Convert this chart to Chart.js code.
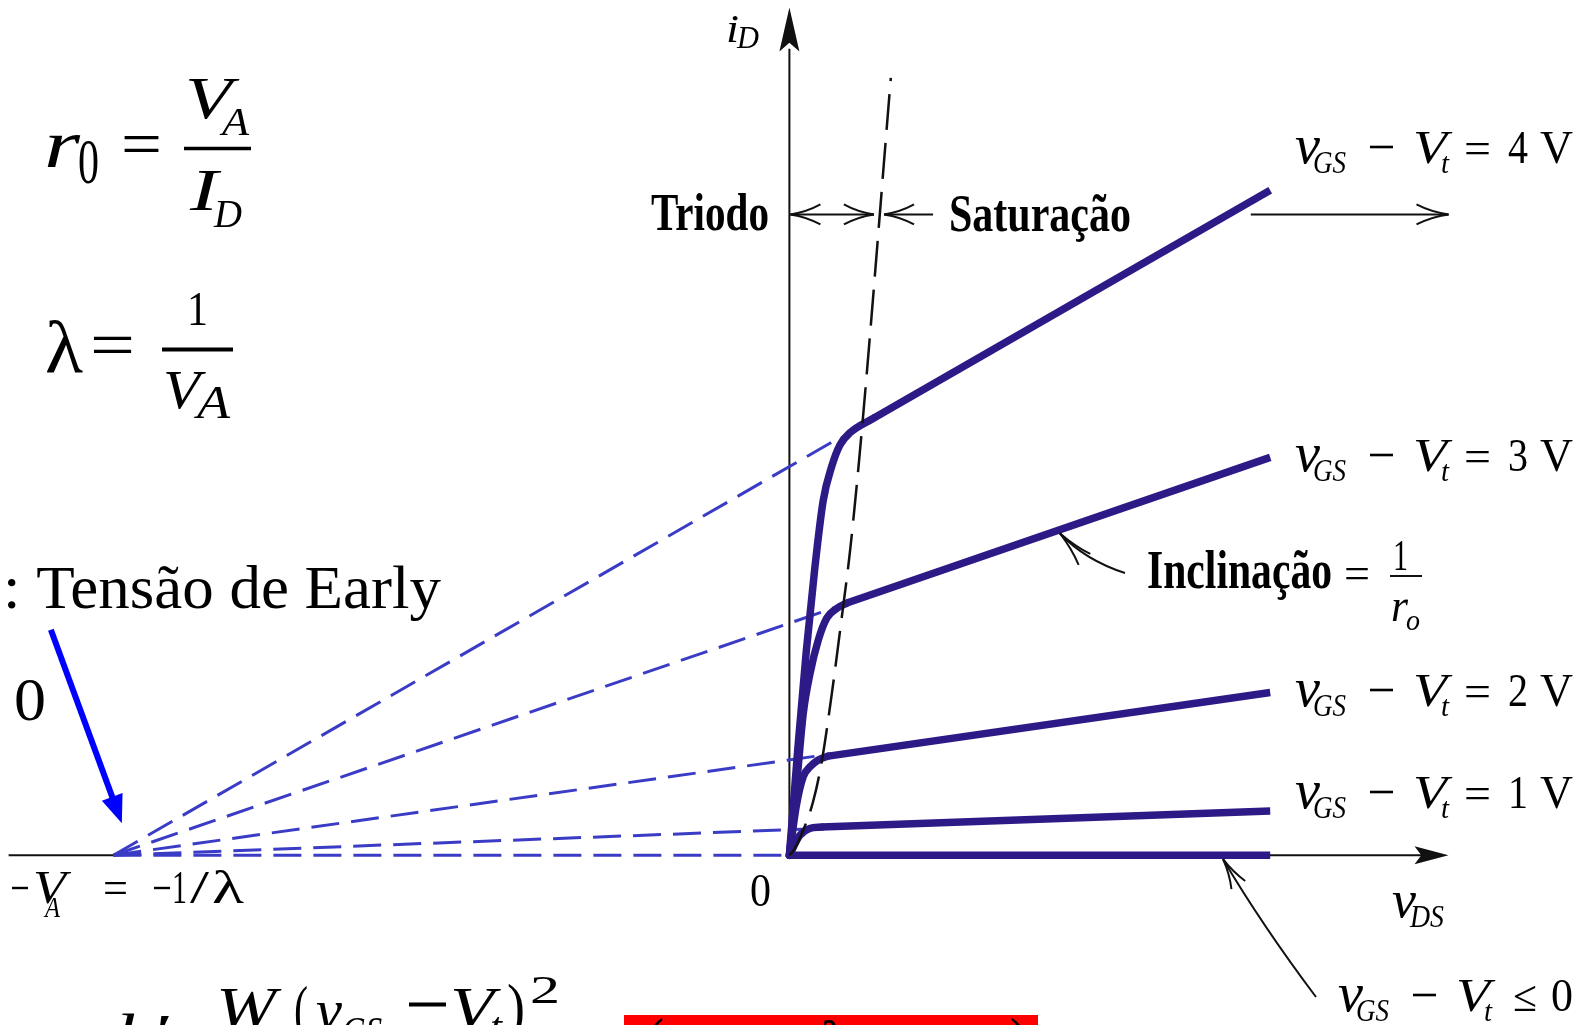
<!DOCTYPE html>
<html>
<head>
<meta charset="utf-8">
<title>Efeito Early - curvas iD x vDS</title>
<script src="https://cdn.jsdelivr.net/npm/chart.js@4.4.1/dist/chart.umd.min.js"></script>
<style>
  html, body { margin: 0; padding: 0; background: #fff; }
  #wrap { position: relative; width: 1587px; height: 1025px; }
</style>
</head>
<body>
<div id="wrap"><canvas id="curvasChart"></canvas></div>
<script>
// v_GS - V_t de cada curva (V)
const overdrive = [4, 3, 2, 1, 0];
// todas as retas de saturacao se cruzam em -V_A (V)
const earlyVoltage = -40;

// trecho de triodo ate o joelho (vDS em V, iD em mA)
const vds4 = [0, 0.5, 1.0, 1.5, 2.0, 2.5, 3.0, 3.6, 5.0];
const id4  = [0, 2.2, 4.2, 5.9, 7.3, 8.0, 8.45, 8.7, 9.0];
const vds3 = [0, 0.45, 0.82, 1.22, 1.71, 2.21, 2.8, 3.4];
const id3  = [0, 1.55, 2.92, 3.74, 4.43, 4.88, 5.08, 5.19];
const vds2 = [0, 0.4, 0.82, 1.22, 1.71, 2.3];
const id2  = [0, 1.0, 1.62, 1.82, 1.96, 2.04];
const vds1 = [0, 0.6, 1.2, 1.9];
const id1  = [0, 0.4, 0.55, 0.58];

// retas de saturacao: do joelho ate vDS final
const satStartV = [5.0, 3.4, 2.3, 1.9, 0];
const satStartI = [9.0, 5.19, 2.04, 0.58, 0];
const satEndV = 28.45;
const satEndI = [13.69, 8.19, 3.35, 0.91, 0];

// extrapolacao ate -V_A: ponto final de cada reta tracejada
const kneeV = [3.0, 2.8, 2.0, 1.2, 0];
const kneeI = [8.6, 5.11, 2.06, 0.54, 0];

// fronteira triodo / saturacao
const vdsEdge = [0, 0.25, 0.8, 1.4, 1.9, 2.5, 3.1, 3.6, 4.3, 6.0];
const idEdge  = [0, 0.1, 0.5, 1.1, 1.9, 3.3, 4.9, 6.3, 8.8, 16.0];

const SERIF = '"Liberation Serif", "Times New Roman", serif';
const rg = s => `${s}px ${SERIF}`;
const it = s => `italic ${s}px ${SERIF}`;
const bd = s => `bold ${s}px ${SERIF}`;

const COR_CURVA = '#2e1a87';
const COR_TRACO = '#3b3cc6';

function pares(xs, ys) {
    return xs.map((x, i) => ({ x: x, y: ys[i] }));
}

// texto com largura forcada (fonte condensada do livro)
function txt(ctx, s, x, y, font, w) {
    ctx.save();
    ctx.font = font;
    ctx.translate(x, y);
    if (w) ctx.scale(w / ctx.measureText(s).width, 1);
    ctx.fillText(s, 0, 0);
    ctx.restore();
}

// sinal de menos desenhado como traco
function menos(ctx, x, y, w, t) {
    ctx.fillRect(x, y - t / 2, w, t);
}

function linha(ctx, x1, y1, x2, y2) {
    ctx.beginPath();
    ctx.moveTo(x1, y1);
    ctx.lineTo(x2, y2);
    ctx.stroke();
}

// ponta aberta, estilo "<"
function pontaAberta(ctx, tx, ty, ang, len, half) {
    const c = Math.cos(ang), s = Math.sin(ang);
    [1, -1].forEach(k => {
        const bx = tx - len * c - k * half * s;
        const by = ty - len * s + k * half * c;
        const cx = tx - len * 0.55 * c - k * half * 0.25 * s;
        const cy = ty - len * 0.55 * s + k * half * 0.25 * c;
        ctx.beginPath();
        ctx.moveTo(tx, ty);
        ctx.quadraticCurveTo(cx, cy, bx, by);
        ctx.stroke();
    });
}

// ponta cheia dos eixos
function pontaCheia(ctx, tx, ty, ang, len, half) {
    const c = Math.cos(ang), s = Math.sin(ang);
    ctx.beginPath();
    ctx.moveTo(tx, ty);
    ctx.lineTo(tx - len * c - half * s, ty - len * s + half * c);
    ctx.lineTo(tx - len * 0.8 * c, ty - len * 0.8 * s);
    ctx.lineTo(tx - len * c + half * s, ty - len * s - half * c);
    ctx.closePath();
    ctx.fill();
}

function rotuloVgs(ctx, dx, y) {
    txt(ctx, 'v', dx + 1295, y, it(54), 25);
    txt(ctx, 'GS', dx + 1313, y + 10, it(31), 33);
    menos(ctx, dx + 1370, y - 16, 23, 2.6);
    txt(ctx, 'V', dx + 1413, y, it(47), 34);
    txt(ctx, 't', dx + 1441, y + 10, it(29), 8);
}

const anotacoes = {
    id: 'anotacoes',
    beforeDatasetsDraw(chart) {
        const ctx = chart.ctx;
        const X = v => chart.scales.x.getPixelForValue(v);
        const Y = v => chart.scales.y.getPixelForValue(v);
        ctx.save();
        ctx.strokeStyle = '#111';
        ctx.fillStyle = '#111';
        ctx.lineWidth = 2;
        // eixo vDS
        linha(ctx, X(-46.2), Y(0), X(earlyVoltage), Y(0));
        linha(ctx, X(0), Y(0), X(37.5), Y(0));
        pontaCheia(ctx, X(39.0), Y(0), 0, 34, 9);
        // eixo iD
        linha(ctx, X(0), Y(0), X(0), Y(16.6));
        pontaCheia(ctx, X(0), Y(17.45), -Math.PI / 2, 44, 10);
        ctx.restore();
    },
    afterDatasetsDraw(chart) {
        const ctx = chart.ctx;
        const X = v => chart.scales.x.getPixelForValue(v);
        const Y = v => chart.scales.y.getPixelForValue(v);
        ctx.save();
        ctx.fillStyle = '#000';
        ctx.strokeStyle = '#111';
        ctx.lineWidth = 2;
        ctx.textBaseline = 'alphabetic';

        // titulos dos eixos
        txt(ctx, 'i', 726, 42, it(40), 13);
        txt(ctx, 'D', 737, 48, it(32), 22);
        txt(ctx, 'v', 1392, 917, it(52), 24);
        txt(ctx, 'DS', 1410, 927, it(31), 34);
        txt(ctx, '0', 750, 906, rg(46), 21);

        // regioes triodo / saturacao
        txt(ctx, 'Triodo', 651, 230, bd(52), 118);
        txt(ctx, 'Satura\u00e7\u00e3o', 949, 231, bd(52), 182);
        const ya = Y(13.19);
        linha(ctx, X(0) + 1, ya, X(5.0), ya);
        pontaAberta(ctx, X(0) + 1, ya, Math.PI, 30, 10);
        pontaAberta(ctx, X(5.0), ya, 0, 30, 10);
        linha(ctx, X(5.6), ya, X(8.5), ya);
        pontaAberta(ctx, X(5.6), ya, Math.PI, 30, 10);
        linha(ctx, X(27.3), ya, X(39.0), ya);
        pontaAberta(ctx, X(39.0), ya, 0, 32, 10);

        // rotulos das curvas
        const bases = [163, 471, 706, 808];
        overdrive.slice(0, 4).forEach((v, i) => {
            rotuloVgs(ctx, 0, bases[i]);
            txt(ctx, '=', 1464, bases[i], rg(44), 27);
            txt(ctx, String(v), 1508, bases[i], rg(46), 20);
            txt(ctx, 'V', 1540, bases[i], rg(46), 33);
        });
        rotuloVgs(ctx, 43, 1011);
        txt(ctx, '\u2264', 1513, 1011, rg(44), 24);
        txt(ctx, '0', 1551, 1011, rg(46), 22);

        // seta para a curva de corte
        const t0x = X(25.66), t0y = Y(0) + 4;
        ctx.beginPath();
        ctx.moveTo(t0x, t0y);
        ctx.quadraticCurveTo(1262, 925, 1316, 997);
        ctx.stroke();
        pontaAberta(ctx, t0x, t0y, Math.atan2(t0y - 925, t0x - 1262), 30, 8);

        // inclinacao 1/ro
        const sx = X(16.0), sy = Y(6.69) + 3;
        ctx.beginPath();
        ctx.moveTo(sx, sy);
        ctx.quadraticCurveTo(1085, 560, 1125, 573);
        ctx.stroke();
        pontaAberta(ctx, sx, sy, Math.atan2(sy - 560, sx - 1085), 36, 8);
        txt(ctx, 'Inclina\u00e7\u00e3o', 1147, 588, bd(54), 185);
        txt(ctx, '=', 1344, 588, rg(44), 26);
        txt(ctx, '1', 1393, 570, rg(44), 15);
        linha(ctx, 1390, 576, 1422, 576);
        txt(ctx, 'r', 1391, 621, it(46), 17);
        txt(ctx, 'o', 1406, 630, it(30), 14);

        // -VA = -1/lambda
        menos(ctx, 12, 888, 16, 2.4);
        txt(ctx, 'V', 33, 903, it(46), 33);
        txt(ctx, 'A', 45, 917, it(30), 15);
        txt(ctx, '=', 103, 903, rg(46), 25);
        menos(ctx, 154, 888, 16, 2.4);
        txt(ctx, '1', 172, 903, rg(46), 15);
        txt(ctx, '/', 190, 903, rg(46), 19);
        txt(ctx, '\u03bb', 212, 903, rg(46), 32);

        // tensao de Early
        txt(ctx, ': Tens\u00e3o de Early', 3, 608, rg(62), 438);
        txt(ctx, '0', 14, 720, rg(62), 32);
        const a0x = X(-43.7), a0y = Y(4.64), a1x = X(-39.5), a1y = Y(0.66);
        const ang = Math.atan2(a1y - a0y, a1x - a0x);
        ctx.strokeStyle = '#0000ff';
        ctx.fillStyle = '#0000ff';
        ctx.lineWidth = 6;
        linha(ctx, a0x, a0y, a1x - 24 * Math.cos(ang), a1y - 24 * Math.sin(ang));
        ctx.beginPath();
        ctx.moveTo(a1x, a1y);
        ctx.lineTo(a1x - 28 * Math.cos(ang) - 11 * Math.sin(ang), a1y - 28 * Math.sin(ang) + 11 * Math.cos(ang));
        ctx.lineTo(a1x - 28 * Math.cos(ang) + 11 * Math.sin(ang), a1y - 28 * Math.sin(ang) - 11 * Math.cos(ang));
        ctx.closePath();
        ctx.fill();

        // formulas
        ctx.fillStyle = '#000';
        ctx.strokeStyle = '#000';
        txt(ctx, 'r', 44, 167, it(68), 36);
        txt(ctx, '0', 78, 183, rg(64), 21);
        txt(ctx, '=', 121, 165, rg(64), 41);
        ctx.lineWidth = 3.5;
        linha(ctx, 184, 148.5, 251, 148.5);
        txt(ctx, 'V', 185, 118, it(60), 47);
        txt(ctx, 'A', 222, 135, it(40), 27);
        txt(ctx, 'I', 190, 210, it(60), 28);
        txt(ctx, 'D', 214, 227, it(40), 28);

        txt(ctx, '\u03bb', 45, 372, rg(74), 38);
        txt(ctx, '=', 90, 367, rg(66), 45);
        ctx.lineWidth = 4;
        linha(ctx, 162, 349.5, 233, 349.5);
        txt(ctx, '1', 187, 325, rg(48), 21);
        txt(ctx, 'V', 163, 408, it(54), 37);
        txt(ctx, 'A', 197, 418, it(46), 33);

        // formula cortada na base
        txt(ctx, 'k\u2032', 116, 1056, it(62), 52);
        txt(ctx, 'W', 216, 1028, it(60), 60);
        txt(ctx, '(', 294, 1030, rg(64), 14);
        txt(ctx, 'v', 316, 1030, it(60), 26);
        txt(ctx, 'GS', 342, 1044, it(40), 40);
        menos(ctx, 409, 1004.5, 37, 4);
        txt(ctx, 'V', 450, 1028, it(60), 44);
        txt(ctx, 't', 490, 1040, it(40), 12);
        txt(ctx, ')', 507, 1028, rg(64), 18);
        txt(ctx, '2', 530, 1003, rg(40), 30);
        ctx.fillStyle = '#ff0000';
        ctx.fillRect(624, 1015, 414, 20);
        ctx.fillStyle = '#000';
        txt(ctx, '(', 646, 1062, rg(64), 18);
        txt(ctx, '1', 680, 1058, rg(50), 20);
        txt(ctx, '\u03bb', 818, 1062, it(60), 28);
        txt(ctx, ')', 1010, 1062, rg(64), 18);
        ctx.restore();
    }
};

function renderizar_curvas() {
    const ctx = document.getElementById('curvasChart').getContext('2d');
    const triodo = [[vds4, id4], [vds3, id3], [vds2, id2], [vds1, id1]];

    const curvas = triodo.map(([xs, ys], i) => ({
        label: 'triodo ' + overdrive[i] + ' V',
        data: pares(xs, ys),
        showLine: true,
        borderColor: COR_CURVA,
        borderWidth: 7.5,
        borderCapStyle: 'round',
        pointRadius: 0,
        cubicInterpolationMode: 'monotone',
        order: 1
    }));

    const saturacao = satStartV.map((v, i) => ({
        label: 'saturacao ' + overdrive[i] + ' V',
        data: [{ x: v, y: satStartI[i] }, { x: satEndV, y: satEndI[i] }],
        showLine: true,
        borderColor: COR_CURVA,
        borderWidth: 7.5,
        borderCapStyle: 'butt',
        pointRadius: 0,
        order: 1
    }));

    const tracejadas = kneeV.map((v, i) => ({
        label: 'extrapolacao ' + overdrive[i] + ' V',
        data: [{ x: earlyVoltage, y: 0 }, { x: v, y: kneeI[i] }],
        showLine: true,
        borderColor: COR_TRACO,
        borderWidth: 3,
        borderDash: [28, 12],
        pointRadius: 0,
        order: 3
    }));

    const fronteira = {
        label: 'fronteira',
        data: pares(vdsEdge, idEdge),
        showLine: true,
        borderColor: '#111',
        borderWidth: 2.5,
        borderDash: [36, 13],
        pointRadius: 0,
        cubicInterpolationMode: 'monotone',
        order: 0
    };

    new Chart(ctx, {
        type: 'scatter',
        data: { datasets: [fronteira].concat(curvas, saturacao, tracejadas) },
        options: {
            responsive: true,
            maintainAspectRatio: false,
            animation: false,
            events: [],
            layout: { padding: 0 },
            plugins: {
                legend: { display: false },
                tooltip: { enabled: false }
            },
            scales: {
                x: { type: 'linear', min: -46.71, max: 47.195, display: false },
                y: { type: 'linear', min: -3.495, max: 17.604, display: false }
            }
        },
        plugins: [anotacoes]
    });
}

renderizar_curvas();
</script>
</body>
</html>
